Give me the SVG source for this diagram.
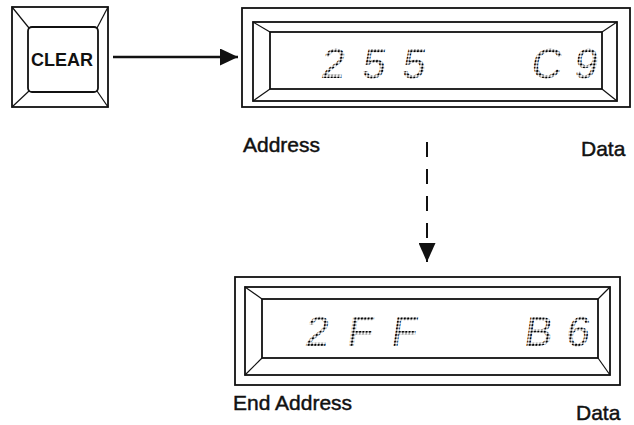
<svg xmlns="http://www.w3.org/2000/svg" width="634" height="425" viewBox="0 0 634 425">
<defs>
<pattern id="dots" patternUnits="userSpaceOnUse" width="3.3" height="3.3">
<circle cx="1.65" cy="1.65" r="1.3" fill="#000"/>
</pattern>
<marker id="ah" markerWidth="18" markerHeight="17" refX="18" refY="8.5" orient="auto" markerUnits="userSpaceOnUse">
<path d="M0,0 L18,8.5 L0,17 Z" fill="#111"/>
</marker>
<marker id="ah2" markerWidth="19" markerHeight="17" refX="19" refY="8.5" orient="auto" markerUnits="userSpaceOnUse">
<path d="M0,0 L19,8.5 L0,17 Z" fill="#111"/>
</marker>
</defs>
<style>
.ln{fill:none;stroke:#111;stroke-width:1.8}
.thin{fill:none;stroke:#111;stroke-width:1.2}
.lbl{font-family:"Liberation Sans",Arial,sans-serif;font-size:21px;fill:#111;stroke:#111;stroke-width:0.45}
.dig{font-family:"Liberation Sans",Arial,sans-serif;font-size:42px;fill:url(#dots)}
</style>
<rect width="634" height="425" fill="#fff"/>

<g id="clear-button">
<rect class="ln" x="12" y="7" width="96" height="100"/>
<rect class="ln" x="28" y="27" width="70" height="65" rx="4"/>
<line class="thin" x1="12" y1="7" x2="29" y2="28"/>
<line class="thin" x1="108" y1="7" x2="97" y2="28"/>
<line class="thin" x1="12" y1="107" x2="29" y2="91"/>
<line class="thin" x1="108" y1="107" x2="97" y2="91"/>
<text x="31" y="66" font-family="Liberation Sans,Arial,sans-serif" font-size="18" font-weight="bold" fill="#111">CLEAR</text>
</g>

<g id="display-top">
<rect class="ln" x="242" y="8" width="388" height="99"/>
<rect class="ln" x="253" y="22" width="364" height="79"/>
<rect class="ln" x="270" y="32" width="332" height="57"/>
<line class="thin" x1="253" y1="22" x2="270" y2="32"/>
<line class="thin" x1="617" y1="22" x2="602" y2="32"/>
<line class="thin" x1="253" y1="101" x2="270" y2="89"/>
<line class="thin" x1="617" y1="101" x2="602" y2="89"/>
<g transform="translate(0,78) skewX(-8) translate(0,-78)">
<text class="dig" x="320 361 401" y="78">255</text>
<text class="dig" x="530 573" y="78">C9</text>
</g>
<text class="lbl" x="243" y="152">Address</text>
<text class="lbl" x="581" y="156">Data</text>
</g>

<g id="display-bottom">
<rect class="ln" x="235" y="277" width="385" height="108"/>
<rect class="ln" x="245" y="287" width="365" height="88"/>
<rect class="ln" x="262" y="299" width="336" height="59"/>
<line class="thin" x1="245" y1="287" x2="262" y2="299"/>
<line class="thin" x1="610" y1="287" x2="598" y2="299"/>
<line class="thin" x1="245" y1="375" x2="262" y2="358"/>
<line class="thin" x1="610" y1="375" x2="598" y2="358"/>
<g transform="translate(0,346) skewX(-8) translate(0,-346)">
<text class="dig" x="304 346 390" y="346" font-size="45">2FF</text>
<text class="dig" x="523 565" y="346" font-size="45">B6</text>
</g>
<text class="lbl" x="233" y="410">End Address</text>
<text class="lbl" x="576" y="420" font-size="20">Data</text>
</g>

<g id="connectors">
<line x1="113" y1="57" x2="238" y2="57" stroke="#111" stroke-width="2.6" marker-end="url(#ah)"/>
<line x1="427" y1="142" x2="427" y2="262" stroke="#111" stroke-width="2" stroke-dasharray="15 12" marker-end="url(#ah2)"/>
</g>
</svg>
